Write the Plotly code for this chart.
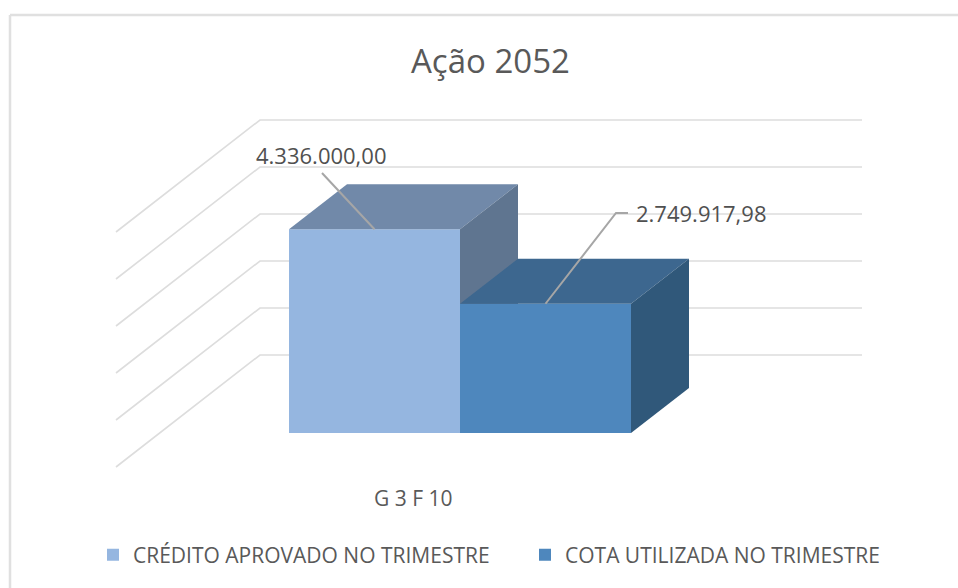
import plotly.graph_objects as go

title = "Ação 2052"
category = "G 3 F 10"
series = ["CRÉDITO APROVADO NO TRIMESTRE", "COTA UTILIZADA NO TRIMESTRE"]
values = [4336000.00, 2749917.98]
value_labels = ["4.336.000,00", "2.749.917,98"]
front_colors = ["#95B6E0", "#4E87BD"]
top_colors = ["#7189A9", "#3D678F"]
side_colors = ["#5F7590", "#30587A"]
grid_values = [0, 1000000, 2000000, 3000000, 4000000, 5000000]

PX_X = 171.0
PX_Y = 47.0 / 1e6
X0_PX = 374.5
Y0_PX = 433.0
W, H = 958, 588
DX = 58 / PX_X
DY = 45 / PX_Y
FLOOR_BACK = 260
FLOOR_FRONT = 116
RIGHT = 862
GRID = "#DDDDDD"
LEADER = "#A6A6A6"


def xpx(p):
    return (p - X0_PX) / PX_X


def ypx(p):
    return (Y0_PX - p) / PX_Y


fig = go.Figure()

# back wall and side wall grid, lowest layer
back_shift_y = ypx(355)
front_shift_y = ypx(467)
for g in grid_values:
    fig.add_trace(go.Scatter(
        x=[xpx(FLOOR_FRONT), xpx(FLOOR_BACK), xpx(RIGHT)],
        y=[g + front_shift_y, g + back_shift_y, g + back_shift_y],
        mode="lines", line=dict(color=GRID, width=1.6),
        showlegend=False, hoverinfo="skip"))

# each box sits on its own overlaid axes so that the second hides the first
for i, (name, v) in enumerate(zip(series, values)):
    xa, ya = f"x{i + 2}", f"y{i + 2}"
    l, r = i - 0.5, i + 0.5
    fig.add_trace(go.Bar(x=[i], y=[v], width=1, name=name, xaxis=xa, yaxis=ya,
                         marker=dict(color=front_colors[i], line=dict(width=0)),
                         hoverinfo="skip"))
    fig.add_trace(go.Scatter(
        x=[l, r, r + DX, l + DX, l], y=[v, v, v + DY, v + DY, v],
        xaxis=xa, yaxis=ya,
        mode="lines", fill="toself", fillcolor=top_colors[i], line=dict(width=0),
        showlegend=False, hoverinfo="skip"))
    fig.add_trace(go.Scatter(
        x=[r, r + DX, r + DX, r, r], y=[0, DY, v + DY, v, 0],
        xaxis=xa, yaxis=ya,
        mode="lines", fill="toself", fillcolor=side_colors[i], line=dict(width=0),
        showlegend=False, hoverinfo="skip"))

# leader lines
fig.add_trace(go.Scatter(
    x=[0, xpx(322)], y=[values[0], ypx(173)], mode="lines", xaxis="x3", yaxis="y3",
    line=dict(color=LEADER, width=2), showlegend=False, hoverinfo="skip"))
fig.add_trace(go.Scatter(
    x=[1, xpx(616), xpx(628)], y=[values[1], ypx(213), ypx(213)], mode="lines",
    xaxis="x3", yaxis="y3",
    line=dict(color=LEADER, width=2), showlegend=False, hoverinfo="skip"))

FONT = "Open Sans"
TXT = "#595959"
fig.add_annotation(x=xpx(321), y=ypx(155), text=value_labels[0], showarrow=False,
                   font=dict(family=FONT, size=22, color="#505050"))
fig.add_annotation(x=xpx(701), y=ypx(213), text=value_labels[1], showarrow=False,
                   font=dict(family=FONT, size=22, color="#505050"))
fig.add_annotation(x=xpx(413), y=ypx(498), text=category, showarrow=False,
                   font=dict(family=FONT, size=21, color=TXT))
fig.add_annotation(x=xpx(490), y=ypx(60), text=title, showarrow=False,
                   font=dict(family=FONT, size=33, color=TXT))

x_range = [xpx(0), xpx(W)]
y_range = [ypx(H), ypx(0)]
axis_x = dict(range=x_range, visible=False, fixedrange=True)
axis_y = dict(range=y_range, visible=False, fixedrange=True)

fig.update_layout(
    width=W, height=H, margin=dict(l=0, r=0, t=0, b=0, autoexpand=False),
    paper_bgcolor="white", plot_bgcolor="rgba(0,0,0,0)",
    barmode="overlay",
    xaxis=axis_x, yaxis=axis_y,
    xaxis2=dict(axis_x, overlaying="x"), yaxis2=dict(axis_y, overlaying="y"),
    xaxis3=dict(axis_x, overlaying="x"), yaxis3=dict(axis_y, overlaying="y"),
    legend=dict(orientation="h", x=93 / W, xanchor="left", y=(H - 555) / H, yanchor="middle",
                entrywidth=387, entrywidthmode="pixels", traceorder="normal",
                font=dict(family=FONT, size=21, color=TXT), bgcolor="rgba(0,0,0,0)"),
    shapes=[
        dict(type="line", xref="paper", yref="paper", x0=10 / W, x1=10 / W, y0=0, y1=(H - 15) / H,
             line=dict(color="#E0E0E0", width=2.5)),
        dict(type="line", xref="paper", yref="paper", x0=10 / W, x1=1, y0=(H - 15) / H, y1=(H - 15) / H,
             line=dict(color="#E0E0E0", width=2.5)),
    ],
)
fig.write_html("out.html", config={"displayModeBar": False},
               post_script="document.body.style.margin='0';")
